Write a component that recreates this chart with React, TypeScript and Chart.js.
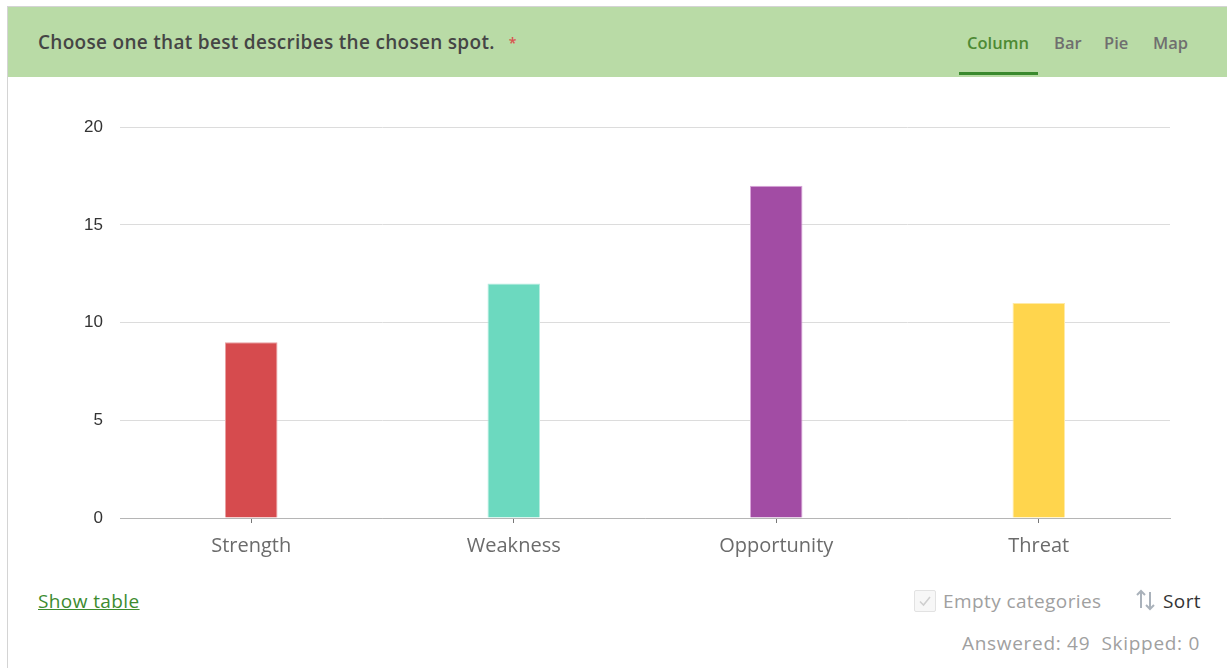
import React, { useEffect, useRef } from "react";
import { Chart, registerables } from "chart.js";

Chart.register(...registerables);

const categories = ["Strength", "Weakness", "Opportunity", "Threat"];
const counts = [9, 12, 17, 11];
const barColors = ["#d64b4e", "#6cd9bf", "#a24ca4", "#ffd54d"];
const barBorders = ["#e8a0a2", "#b6ecdf", "#d9a6da", "#ffeaa6"];
const yTicks = [0, 5, 10, 15, 20];
const tabs = ["Column", "Bar", "Pie", "Map"];

const UI_FONT = "'Open Sans', 'Noto Sans', sans-serif";

export default function App() {
  const canvasRef = useRef<HTMLCanvasElement | null>(null);

  useEffect(() => {
    const canvas = canvasRef.current;
    if (!canvas) return;
    const chart = new Chart(canvas, {
      type: "bar",
      data: {
        labels: categories,
        datasets: [
          {
            data: counts,
            backgroundColor: barColors,
            borderColor: barBorders,
            borderWidth: 1,
            barPercentage: 0.2,
            categoryPercentage: 1,
          },
        ],
      },
      options: {
        animation: false,
        responsive: false,
        maintainAspectRatio: false,
        layout: { padding: { top: 8, right: 20, left: 0, bottom: 0 } },
        plugins: { legend: { display: false }, tooltip: { enabled: false } },
        scales: {
          x: {
            grid: {
              offset: false,
              drawOnChartArea: false,
              drawTicks: true,
              tickLength: 5,
              tickColor: "#777",
            },
            border: { display: true, color: "#b5b5b5", width: 1 },
            ticks: {
              color: "#6b6b6b",
              font: { family: UI_FONT, size: 20 },
              padding: 11,
            },
            afterFit: (s: any) => {
              s.height = 52;
            },
          },
          y: {
            min: 0,
            max: 20,
            afterBuildTicks: (s: any) => {
              s.ticks = yTicks.map((v) => ({ value: v }));
            },
            grid: { color: "#dcdcdc", drawTicks: false, lineWidth: 1 },
            border: { display: false },
            ticks: {
              color: "#333",
              font: { family: "'Liberation Sans', Arial, sans-serif", size: 17 },
              padding: 17,
            },
            afterFit: (s: any) => {
              s.width = 60;
            },
          },
        },
      },
    });
    return () => chart.destroy();
  }, []);

  const body = { fontSize: 19, letterSpacing: 0.4 } as const;

  return (
    <div style={{ position: "fixed", left: 0, top: 0, width: 1227, height: 668, background: "#fff", overflow: "hidden", fontFamily: UI_FONT }}>
      <div style={{ position: "absolute", left: 7, top: 6, width: 1240, height: 700, border: "1px solid #d4d4d4", boxSizing: "border-box" }} />
      <div style={{ position: "absolute", left: 8, top: 7, width: 1219, height: 70, background: "#b9dba6" }}>
        <div style={{ position: "absolute", left: 30, top: 22, fontSize: 19, fontWeight: 600, letterSpacing: 0.3, color: "#454545", whiteSpace: "nowrap" }}>
          Choose one that best describes the chosen spot.
          <span style={{ color: "#d9534f", fontSize: 14, marginLeft: 14, position: "relative", top: -1 }}>*</span>
        </div>
        {tabs.map((t, i) => {
          const lefts = [959, 1054, 1104, 1153];
          const active = i === 0;
          return (
            <div key={t} style={{ position: "absolute", left: lefts[i] - 8, top: 24, fontSize: 16.5, fontWeight: 600, color: active ? "#4d8a34" : "#6f6f6f", whiteSpace: "nowrap", width: active ? 78 : undefined, textAlign: active ? "center" : undefined }}>
              {t}
            </div>
          );
        })}
        <div style={{ position: "absolute", left: 951, top: 65, width: 79, height: 3, background: "#3a8a2e" }} />
      </div>
      <canvas ref={canvasRef} width={1130} height={470} style={{ position: "absolute", left: 60, top: 100, width: 1130, height: 470 }} />
      <div style={{ position: "absolute", left: 38, top: 588, ...body, color: "#3d8b2f", textDecoration: "underline", whiteSpace: "nowrap" }}>Show table</div>
      <div style={{ position: "absolute", left: 914, top: 590, width: 22, height: 22, border: "1px solid #e2e2e2", borderRadius: 2, background: "#f7f7f7", boxSizing: "border-box" }}>
        <svg width="20" height="20" viewBox="0 0 20 20" style={{ position: "absolute", left: 0, top: 0 }}>
          <path d="M5 10.5 L8.5 14 L15 6" stroke="#cfcfcf" strokeWidth="1.6" fill="none" />
        </svg>
      </div>
      <div style={{ position: "absolute", left: 943, top: 588, ...body, color: "#a0a0a0", whiteSpace: "nowrap" }}>Empty categories</div>
      <svg width="24" height="24" viewBox="0 0 24 24" style={{ position: "absolute", left: 1134, top: 588 }}>
        <path d="M7 3 L7 20 M3 7 L7 3 L11 7" stroke="#aab2bb" strokeWidth="2" fill="none" />
        <path d="M16 4 L16 21 M12 17 L16 21 L20 17" stroke="#aab2bb" strokeWidth="2" fill="none" />
      </svg>
      <div style={{ position: "absolute", left: 1163, top: 588, ...body, color: "#333", whiteSpace: "nowrap" }}>Sort</div>
      <div style={{ position: "absolute", right: 27, top: 630, fontSize: 19, letterSpacing: 0.7, color: "#a0a0a0", whiteSpace: "nowrap" }}>Answered: 49&nbsp;&nbsp;Skipped: 0</div>
    </div>
  );
}
